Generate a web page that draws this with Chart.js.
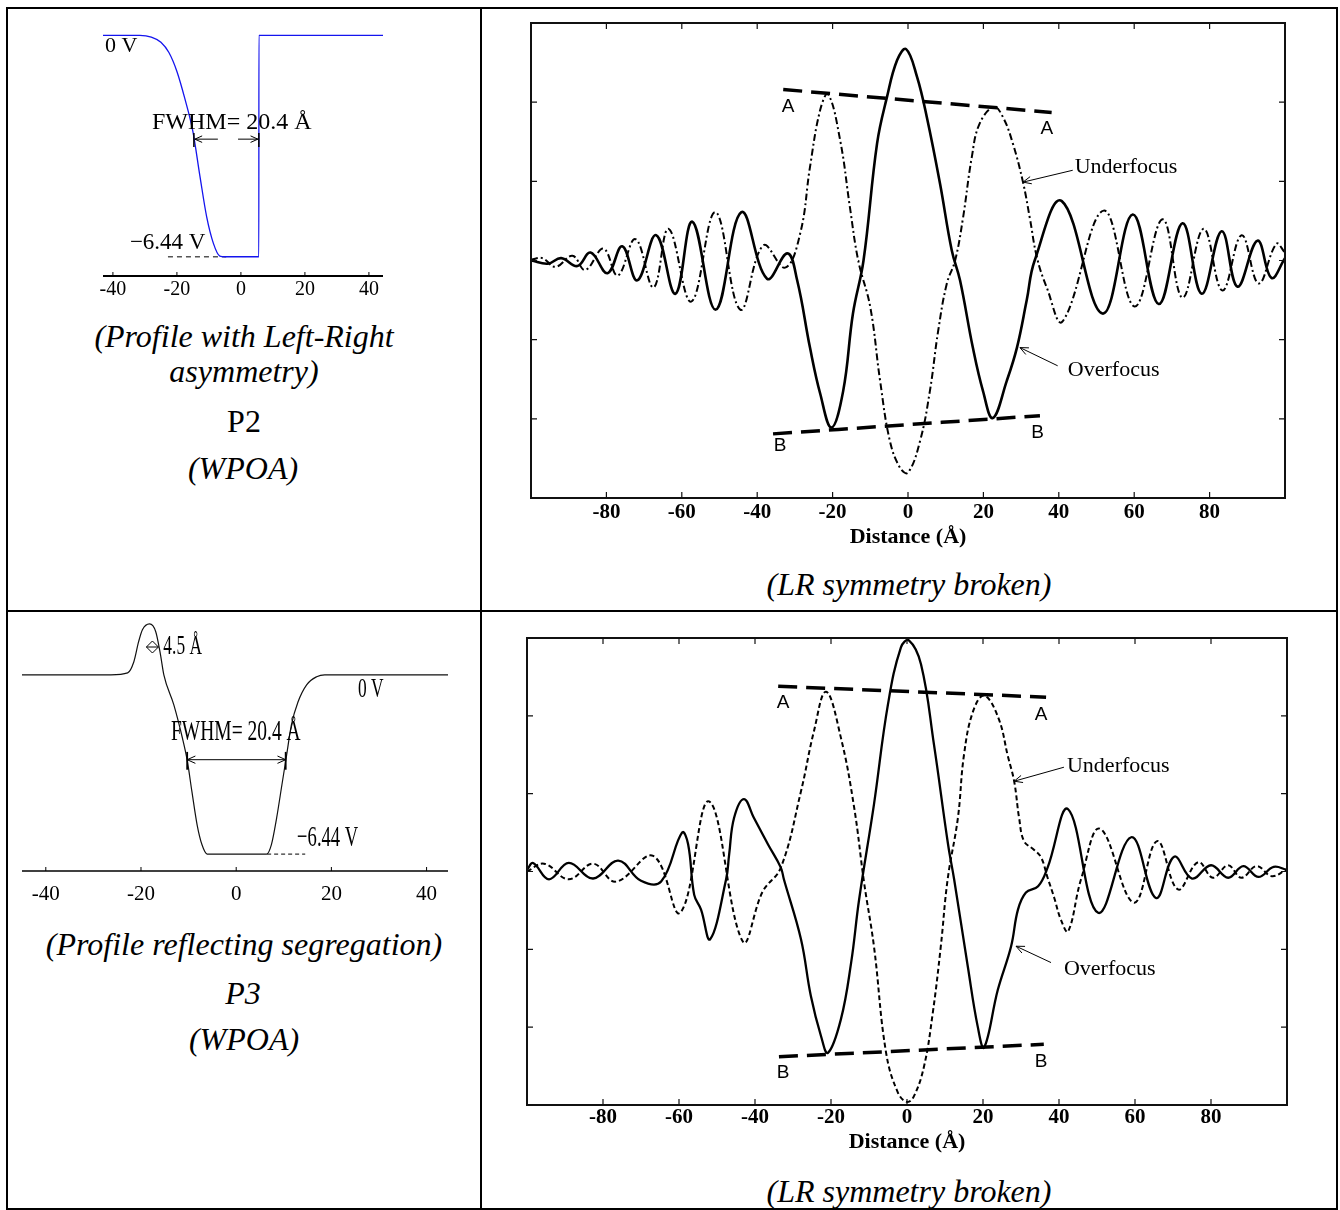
<!DOCTYPE html>
<html>
<head>
<meta charset="utf-8">
<title>Profiles and through-focus intensity</title>
<script src="https://cdn.jsdelivr.net/npm/chart.js@4.4.1/dist/chart.umd.min.js"></script>
<style>
  body { margin: 0; background: #fff; }
  #page { position: relative; width: 1340px; height: 1210px; background: #fff; overflow: hidden;
          font-family: 'Liberation Serif', 'Times New Roman', serif; color: #000; }
  .rule { position: absolute; background: #000; }
  canvas { position: absolute; }
  .cap { position: absolute; white-space: nowrap; line-height: 1; transform: translate(-50%, -50%); font-size: 32px; }
  .it { font-style: italic; }
</style>
</head>
<body>
<div id="page">
  <div class="rule" style="left:6px;top:7px;width:1332px;height:2px"></div>
  <div class="rule" style="left:6px;top:7px;width:2px;height:1203px"></div>
  <div class="rule" style="left:1336px;top:7px;width:2px;height:1203px"></div>
  <div class="rule" style="left:480px;top:7px;width:2px;height:1203px"></div>
  <div class="rule" style="left:6px;top:610px;width:1332px;height:2px"></div>
  <div class="rule" style="left:6px;top:1208px;width:1332px;height:2px"></div>

  <canvas id="p2" width="470" height="300" style="left:8px;top:10px"></canvas>
  <canvas id="tr" width="850" height="545" style="left:484px;top:10px"></canvas>
  <canvas id="p3" width="470" height="300" style="left:8px;top:614px"></canvas>
  <canvas id="br" width="850" height="545" style="left:484px;top:614px"></canvas>

  <div class="cap it" style="left:244px;top:336px">(Profile with Left-Right</div>
  <div class="cap it" style="left:244px;top:371px">asymmetry)</div>
  <div class="cap" style="left:244px;top:421px">P2</div>
  <div class="cap it" style="left:243px;top:468px">(WPOA)</div>
  <div class="cap it" style="left:909px;top:584px">(LR symmetry broken)</div>

  <div class="cap it" style="left:244px;top:944px">(Profile reflecting segregation)</div>
  <div class="cap it" style="left:243px;top:993px">P3</div>
  <div class="cap it" style="left:244px;top:1039px">(WPOA)</div>
  <div class="cap it" style="left:909px;top:1191px">(LR symmetry broken)</div>
</div>

<script>
// ---- data ----

// P2 potential profile (Å, V)
const p2X = [-43.1, -31.6, -28, -25, -22.5, -20, -17.5, -15, -12.8, -10.7, -8.6, -6.6, -5, 5.6, 5.62, 44.4];
const p2V = [0, 0, -0.05, -0.2, -0.5, -1.05, -1.85, -2.8, -4.1, -5.28, -6.05, -6.42, -6.44, -6.44, 0, 0];
const p2LevelX = [-22.8, -4.6];
const p2LevelV = [-6.44, -6.44];

// P3 potential profile (Å, V)
const p3X = [-45, -26.3, -22.8, -21.5, -20.5, -19.7, -18.2, -16.9, -15.9, -15.2, -13.1, -11.3, -10.3, -9.3,
             -8.2, -7.2, -6.1, 6.4, 7.4, 8.5, 9.6, 10.6, 11.6, 13, 14.8, 16.9, 18.6, 44.5];
const p3V = [0, 0, 0.07, 0.47, 1.19, 1.62, 1.83, 1.55, 0.72, 0, -1.08, -2.27, -3.06, -4.2,
             -5.4, -6.1, -6.44, -6.44, -6.1, -5.14, -3.96, -2.88, -1.8, -0.97, -0.36, -0.07, 0, 0];
const p3LevelX = [6.5, 14.5];
const p3LevelV = [-6.44, -6.44];

// top right: overfocus (solid) and underfocus (dash-dot)
const trOverX = [-100, -95.5, -92, -87.7, -84.2, -79.7, -75.8, -71.8, -66.8, -61.7, -57.2, -51, -44.2, -37.4, -32,
                 -29.4, -26, -23.3, -20.3, -17.2, -14.6, -11.8, -8.2, -5.6, -2.9, -0.5, 2.4, 5, 8.5, 11.6, 13.8,
                 17.2, 19.9, 22.5, 26.2, 28.9, 31.5, 33.6, 40.8, 51.6, 59.6, 66.5, 72.8, 77.9, 83.2, 87.4, 92.7, 96.4, 100];
const trOverY = [0, -0.04, 0.03, -0.07, 0.1, -0.16, 0.18, -0.25, 0.32, -0.42, 0.49, -0.62, 0.61, -0.23, 0.09,
                 -0.25, -1.1, -1.68, -2.11, -1.65, -0.67, 0, 1.48, 2.06, 2.53, 2.67, 2.32, 1.81, 0.97, 0.13, -0.25,
                 -1.1, -1.65, -1.99, -1.52, -1.1, -0.5, 0, 0.75, -0.67, 0.58, -0.55, 0.47, -0.42, 0.37, -0.33, 0.25, -0.22, 0.03];
const trUnderX = [-100, -97, -93.5, -89, -85.6, -80.8, -77, -72.3, -67.5, -63.5, -57.5, -51.1, -44.5, -38.4, -32.6,
                  -28.6, -26, -23.3, -21.2, -18, -15.4, -13.2, -10, -7.4, -4.8, -2.1, 0, 3.2, 5.8, 8, 10.3, 12.5,
                  14.6, 16.9, 19, 22.8, 25.2, 27.8, 30.5, 32.3, 34.2, 36.8, 41, 51.9, 60.1, 67.5, 72.8, 78.4, 83.4,
                  88.5, 93, 97.7, 100];
const trUnderY = [0.01, 0.03, -0.08, 0.06, -0.12, 0.15, -0.19, 0.27, -0.34, 0.4, -0.52, 0.61, -0.62, 0.19, -0.09,
                  0.34, 1.18, 1.9, 2.1, 1.52, 0.67, 0, -0.59, -1.52, -2.28, -2.62, -2.68, -2.28, -1.65, -0.89, -0.29, 0,
                  0.54, 1.3, 1.73, 1.94, 1.81, 1.48, 0.99, 0.54, 0.04, -0.34, -0.77, 0.63, -0.58, 0.52, -0.47, 0.4, -0.38,
                  0.32, -0.29, 0.21, 0.1];
const trLineAX = [-33.1, 38.1];
const trLineAY = [2.16, 1.87];
const trLineBX = [-35.8, 35];
const trLineBY = [-2.19, -1.96];

// bottom right: overfocus (solid) and underfocus (dashed)
const brOverX = [-100, -98.4, -94.2, -89, -82.6, -76, -70, -64.7, -59.2, -57.6, -56, -54.2, -51.8, -47.6, -46.8,
                 -45.5, -42.9, -40.3, -36.6, -33.2, -32.4, -27.9, -25.3, -22.6, -20.8, -17.4, -14.7, -12.6, -8.7,
                 -5, -1.6, 0.5, 3.7, 7.1, 10.8, 12.4, 16, 18.6, 20.3, 23.9, 27.4, 29.2, 31.3, 34.5, 37, 42.4, 50.3,
                 59, 65.5, 70.3, 75, 80, 84.5, 88.5, 92.5, 96.5, 100];
const brOverY = [0.02, 0.11, -0.1, 0.11, -0.09, 0.14, -0.12, -0.13, 0.5, 0.35, -0.3, -0.49, -0.87, -0.1, 0.22,
                 0.69, 0.93, 0.69, 0.35, 0.05, -0.1, -0.87, -1.6, -2.12, -2.33, -1.9, -1.17, -0.36, 0.86,
                 2.15, 2.88, 2.97, 2.66, 1.63, 0.35, -0.1, -1.22, -1.99, -2.26, -1.52, -0.96, -0.49, -0.27, -0.19, 0.05, 0.8, -0.53,
                 0.44, -0.34, 0.19, -0.09, 0.08, -0.08, 0.07, -0.07, 0.06, 0.02];
const brUnderX = [-100, -95.5, -89, -82.6, -76.6, -66.8, -59.7, -52.1, -43.2, -38, -33.2, -27.9, -24.5, -21.3,
                  -17.4, -13.9, -11.3, -8.7, -5.5, -2.4, 0, 1.8, 4.5, 6.8, 8.9, 10.7, 13.4, 15, 17.4, 20.3, 24,
                  26.6, 28.2, 29.5, 30.8, 33.4, 35.3, 37, 38.7, 40.5, 42.4, 45.8, 50.8, 59.7, 65.8, 71.3, 76.6,
                  80.5, 84.5, 88, 92, 96, 100];
const brUnderY = [0, 0.1, -0.1, 0.1, -0.13, 0.2, -0.53, 0.9, -0.9, -0.26, 0.05, 1.03, 1.8, 2.31,
                  1.72, 0.82, -0.14, -0.96, -2.33, -2.84, -2.96, -2.89, -2.5, -1.81, -0.96, -0.1, 0.69, 1.5, 2.06, 2.26, 1.98,
                  1.47, 1.16, 0.69, 0.39, 0.28, 0.18, -0.08, -0.33, -0.62, -0.77, -0.1, 0.55, -0.4, 0.39, -0.23, 0.12,
                  -0.08, 0.08, -0.08, 0.07, -0.06, 0.03];
const brLineAX = [-33.9, 36.6];
const brLineAY = [2.38, 2.24];
const brLineBX = [-33.7, 36];
const brLineBY = [-2.38, -2.22];

// tick values
const profileTicks = [-40, -20, 0, 20, 40];
const distTicks = [-80, -60, -40, -20, 0, 20, 40, 60, 80];
const intensityTicks = [-3, -2, -1, 0, 1, 2, 3];

// ---- drawing ----
const serif = "'Liberation Serif', 'Times New Roman', serif";
const sans = "'Liberation Sans', Arial, sans-serif";

const pts = (xs, ys) => xs.map((x, i) => ({ x: x, y: ys[i] }));

function arrowHead(ctx, x1, y1, x2, y2, len) {
  const a = Math.atan2(y2 - y1, x2 - x1);
  ctx.moveTo(x2 + len * Math.cos(a + Math.PI - 0.42), y2 + len * Math.sin(a + Math.PI - 0.42));
  ctx.lineTo(x2, y2);
  ctx.lineTo(x2 + len * Math.cos(a + Math.PI + 0.42), y2 + len * Math.sin(a + Math.PI + 0.42));
}

// frame, inward ticks and the little labels / arrows
const notesPlugin = {
  id: 'notes',
  afterDatasetsDraw(chart, args, opts) {
    const { ctx, chartArea: a, scales: { x, y } } = chart;
    const X = v => x.getPixelForValue(v);
    const Y = v => y.getPixelForValue(v);
    ctx.save();
    ctx.strokeStyle = '#000';
    ctx.fillStyle = '#000';

    if (opts.frame) {
      ctx.lineWidth = 2;
      ctx.strokeStyle = '#111';
      ctx.strokeRect(a.left, a.top, a.right - a.left, a.bottom - a.top);
      ctx.lineWidth = 1.2;
      ctx.beginPath();
      x.ticks.forEach(t => {
        const px = X(t.value);
        ctx.moveTo(px, a.bottom); ctx.lineTo(px, a.bottom - 6);
        ctx.moveTo(px, a.top); ctx.lineTo(px, a.top + 6);
      });
      y.ticks.forEach(t => {
        const py = Y(t.value);
        ctx.moveTo(a.left, py); ctx.lineTo(a.left + 6, py);
        ctx.moveTo(a.right, py); ctx.lineTo(a.right - 6, py);
      });
      ctx.stroke();
    }

    if (opts.baseAxis) {
      ctx.lineWidth = opts.baseAxis;
      ctx.beginPath();
      ctx.moveTo(a.left, a.bottom); ctx.lineTo(a.right, a.bottom);
      ctx.stroke();
      ctx.lineWidth = 1;
      ctx.beginPath();
      x.ticks.forEach(t => {
        const px = X(t.value);
        ctx.moveTo(px, a.bottom); ctx.lineTo(px, a.bottom - 4);
      });
      ctx.stroke();
    }

    (opts.items || []).forEach(n => {
      ctx.lineWidth = n.lw || 1;
      ctx.strokeStyle = n.color || '#000';
      ctx.fillStyle = n.color || '#000';
      if (n.kind === 'text') {
        ctx.font = n.font;
        ctx.textBaseline = 'middle';
        ctx.textAlign = n.align || 'left';
        ctx.save();
        ctx.translate(X(n.x), Y(n.y));
        ctx.scale(n.sx || 1, 1);
        ctx.fillText(n.text, 0, 0);
        ctx.restore();
      } else if (n.kind === 'arrow') {
        const x1 = X(n.x1), y1 = Y(n.y1), x2 = X(n.x2), y2 = Y(n.y2);
        ctx.beginPath();
        ctx.moveTo(x1, y1); ctx.lineTo(x2, y2);
        arrowHead(ctx, x1, y1, x2, y2, n.head || 9);
        if (n.both) arrowHead(ctx, x2, y2, x1, y1, n.head || 9);
        ctx.stroke();
      } else if (n.kind === 'bar') {
        ctx.beginPath();
        ctx.moveTo(X(n.x), Y(n.y1)); ctx.lineTo(X(n.x), Y(n.y2));
        ctx.stroke();
      } else if (n.kind === 'diamond') {
        const cx = X(n.x), cy = Y(n.y);
        ctx.beginPath();
        ctx.moveTo(cx - n.r, cy); ctx.lineTo(cx, cy - n.r); ctx.lineTo(cx + n.r, cy);
        ctx.lineTo(cx, cy + n.r); ctx.closePath();
        ctx.moveTo(cx - n.r, cy); ctx.lineTo(cx + n.r, cy);
        ctx.stroke();
      }
    });
    ctx.restore();
  }
};

function makeChart(id, o) {
  return new Chart(document.getElementById(id), {
    type: 'line',
    data: { datasets: o.datasets },
    options: {
      responsive: false,
      animation: false,
      devicePixelRatio: 1,
      layout: { padding: o.pad },
      elements: {
        point: { radius: 0 },
        line: { cubicInterpolationMode: 'monotone', fill: false, borderCapStyle: 'butt' }
      },
      plugins: {
        legend: { display: false },
        tooltip: { enabled: false },
        notes: o.notes
      },
      scales: {
        x: {
          type: 'linear', min: o.xMin, max: o.xMax,
          afterBuildTicks: s => { s.ticks = o.xTicks.map(v => ({ value: v })); },
          afterFit: s => { s.height = o.xAxisH; },
          grid: { display: false, drawTicks: false },
          border: { display: false },
          ticks: { color: '#000', font: o.tickFont, padding: o.tickPad, maxRotation: 0, callback: v => String(v) },
          title: o.xTitle || { display: false }
        },
        y: {
          type: 'linear', min: o.yMin, max: o.yMax,
          afterBuildTicks: s => { s.ticks = (o.yTicks || []).map(v => ({ value: v })); },
          afterFit: s => { s.width = 0; },
          grid: { display: false, drawTicks: false },
          border: { display: false },
          ticks: { display: false }
        }
      }
    },
    plugins: [notesPlugin]
  });
}

// smooth bezier for the wave curves
const wave = { cubicInterpolationMode: 'default', tension: 0.4, borderColor: '#000' };

// P2 profile
makeChart('p2', {
  pad: { left: 95, right: 95, top: 15, bottom: 0 },
  xMin: -43.1, xMax: 44.4, yMin: -7, yMax: 0.3,
  xTicks: profileTicks, xAxisH: 34,
  tickFont: { family: serif, size: 20 }, tickPad: 2,
  datasets: [
    { data: pts(p2X, p2V), borderColor: '#1414ee', borderWidth: 1.3 },
    { data: pts(p2LevelX, p2LevelV), borderColor: '#555', borderWidth: 1.6, borderDash: [5, 4] }
  ],
  notes: {
    baseAxis: 2.2,
    items: [
      { kind: 'text', x: -42.5, y: -0.31, text: '0 V', font: '22px ' + serif },
      { kind: 'text', x: -27.8, y: -2.55, text: 'FWHM= 20.4 Å', font: '24px ' + serif },
      { kind: 'bar', x: -14.7, y1: -2.84, y2: -3.25, lw: 1.5 },
      { kind: 'bar', x: 5.6, y1: -2.84, y2: -3.25, lw: 1.5 },
      { kind: 'arrow', x1: -7.2, y1: -3.02, x2: -14.4, y2: -3.02, head: 8 },
      { kind: 'arrow', x1: -0.9, y1: -3.02, x2: 5.3, y2: -3.02, head: 8 },
      { kind: 'text', x: -34.7, y: -6.04, text: '\u22126.44 V', font: '23px ' + serif }
    ]
  }
});

// P3 profile
makeChart('p3', {
  pad: { left: 14, right: 30, top: 1, bottom: 0 },
  xMin: -45, xMax: 44.5, yMin: -7.05, yMax: 2.15,
  xTicks: profileTicks, xAxisH: 43,
  tickFont: { family: serif, size: 21 }, tickPad: 11,
  datasets: [
    { data: pts(p3X, p3V), borderColor: '#111', borderWidth: 1.2 },
    { data: pts(p3LevelX, p3LevelV), borderColor: '#333', borderWidth: 1.2, borderDash: [4, 3] }
  ],
  notes: {
    baseAxis: 1.6,
    items: [
      { kind: 'diamond', x: -17.6, y: 1.0, r: 6 },
      { kind: 'text', x: -15.3, y: 1.0, text: '4.5 Å', font: '28px ' + serif, sx: 0.62 },
      { kind: 'text', x: 25.6, y: -0.54, text: '0 V', font: '28px ' + serif, sx: 0.62 },
      { kind: 'text', x: -13.7, y: -2.05, text: 'FWHM= 20.4 Å', font: '30px ' + serif, sx: 0.65 },
      { kind: 'bar', x: -10.3, y1: -2.77, y2: -3.41, lw: 1.8 },
      { kind: 'bar', x: 10.4, y1: -2.77, y2: -3.41, lw: 1.8 },
      { kind: 'arrow', x1: -10.3, y1: -3.05, x2: 10.4, y2: -3.05, both: true, head: 9 },
      { kind: 'text', x: 12.8, y: -5.86, text: '\u22126.44 V', font: '30px ' + serif, sx: 0.62 }
    ]
  }
});

const distTitle = {
  display: true, text: 'Distance (Å)', color: '#000',
  font: { family: serif, size: 22, weight: 'bold' }, padding: { top: 0, bottom: 4 }
};

// top right
makeChart('tr', {
  pad: { left: 47, right: 49, top: 13, bottom: 0 },
  xMin: -100, xMax: 100, yMin: -3, yMax: 3,
  xTicks: distTicks, yTicks: intensityTicks, xAxisH: 57,
  tickFont: { family: serif, size: 21, weight: 'bold' }, tickPad: 2,
  xTitle: distTitle,
  datasets: [
    Object.assign({ data: pts(trOverX, trOverY), borderWidth: 2.6 }, wave),
    Object.assign({ data: pts(trUnderX, trUnderY), borderWidth: 2, borderDash: [7, 3, 2, 3] }, wave),
    { data: pts(trLineAX, trLineAY), borderColor: '#000', borderWidth: 3.5, borderDash: [19, 9] },
    { data: pts(trLineBX, trLineBY), borderColor: '#000', borderWidth: 3.5, borderDash: [19, 9] }
  ],
  notes: {
    frame: true,
    items: [
      { kind: 'text', x: -31.8, y: 1.94, text: 'A', font: '19px ' + sans, align: 'center' },
      { kind: 'text', x: 36.8, y: 1.67, text: 'A', font: '19px ' + sans, align: 'center' },
      { kind: 'text', x: -33.9, y: -2.34, text: 'B', font: '19px ' + sans, align: 'center' },
      { kind: 'text', x: 34.4, y: -2.18, text: 'B', font: '19px ' + sans, align: 'center' },
      { kind: 'text', x: 44.2, y: 1.18, text: 'Underfocus', font: '22px ' + serif },
      { kind: 'arrow', x1: 43.7, y1: 1.14, x2: 30.5, y2: 0.99, head: 9 },
      { kind: 'text', x: 42.4, y: -1.39, text: 'Overfocus', font: '22px ' + serif },
      { kind: 'arrow', x1: 39.7, y1: -1.33, x2: 29.7, y2: -1.1, head: 9 }
    ]
  }
});

// bottom right
makeChart('br', {
  pad: { left: 43, right: 47, top: 24, bottom: 0 },
  xMin: -100, xMax: 100, yMin: -3, yMax: 3,
  xTicks: distTicks, yTicks: intensityTicks, xAxisH: 54,
  tickFont: { family: serif, size: 21, weight: 'bold' }, tickPad: 0,
  xTitle: Object.assign({}, distTitle, { padding: { top: 0, bottom: 3 } }),
  datasets: [
    Object.assign({ data: pts(brOverX, brOverY), borderWidth: 2.3 }, wave),
    Object.assign({ data: pts(brUnderX, brUnderY), borderWidth: 2, borderDash: [5, 3] }, wave),
    { data: pts(brLineAX, brLineAY), borderColor: '#000', borderWidth: 3.5, borderDash: [19, 9] },
    { data: pts(brLineBX, brLineBY), borderColor: '#000', borderWidth: 3.5, borderDash: [19, 9] }
  ],
  notes: {
    frame: true,
    items: [
      { kind: 'text', x: -32.6, y: 2.17, text: 'A', font: '19px ' + sans, align: 'center' },
      { kind: 'text', x: 35.3, y: 2.02, text: 'A', font: '19px ' + sans, align: 'center' },
      { kind: 'text', x: -32.6, y: -2.58, text: 'B', font: '19px ' + sans, align: 'center' },
      { kind: 'text', x: 35.3, y: -2.44, text: 'B', font: '19px ' + sans, align: 'center' },
      { kind: 'text', x: 42.1, y: 1.35, text: 'Underfocus', font: '22px ' + serif },
      { kind: 'arrow', x1: 41.3, y1: 1.34, x2: 28.2, y2: 1.16, head: 9 },
      { kind: 'text', x: 41.3, y: -1.26, text: 'Overfocus', font: '22px ' + serif },
      { kind: 'arrow', x1: 37.9, y1: -1.17, x2: 28.7, y2: -0.96, head: 9 }
    ]
  }
});
</script>
</body>
</html>
